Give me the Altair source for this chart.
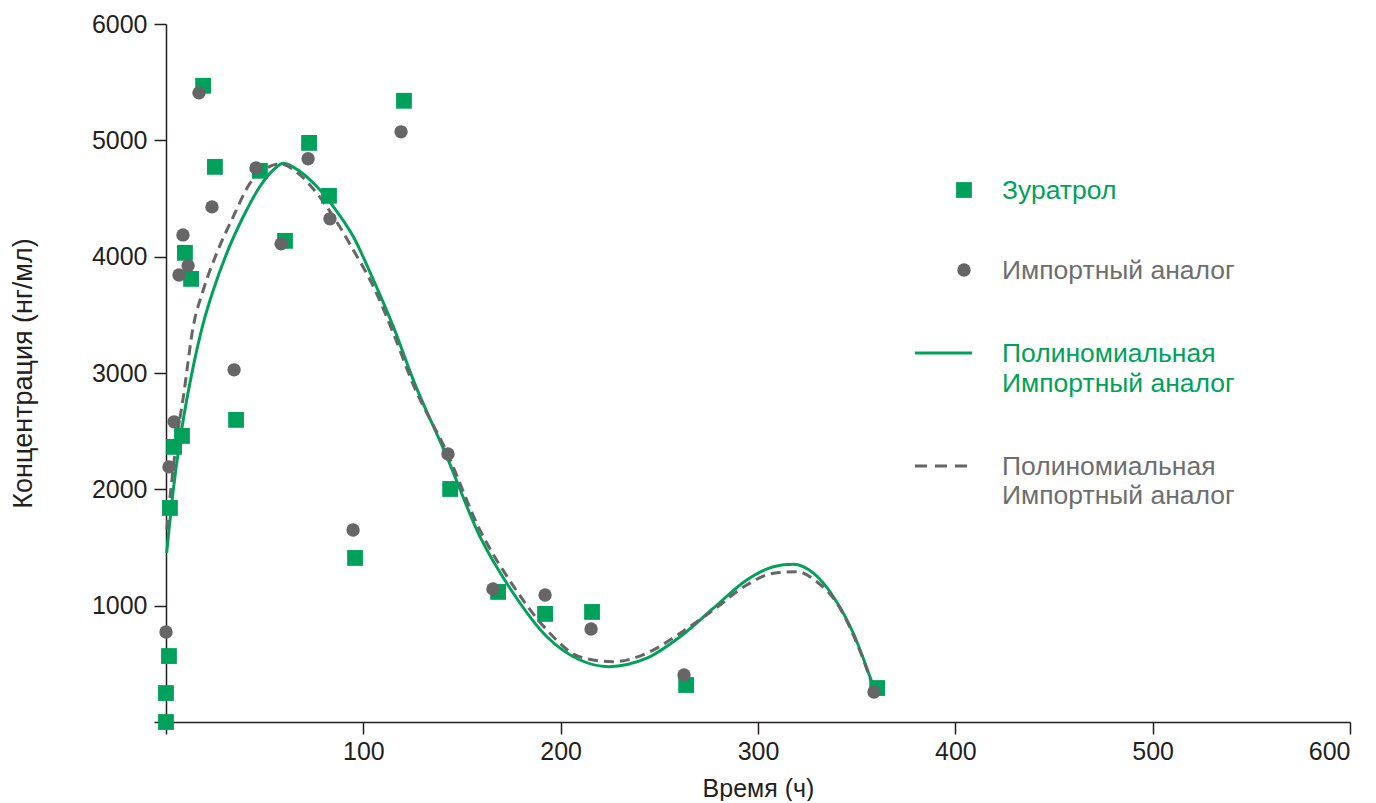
import altair as alt
import pandas as pd

GREEN = "#00A15A"
GRAY = "#666666"
LEG_GRAY = "#6E6E6E"
AXIS = "#231F20"
FONT = "Liberation Sans"

# --- Зуратрол (squares) ---
zur_t = [0, 0, 1.5, 2, 4.1, 8.1, 9.6, 12.7, 18.8, 24.8, 35.5, 47.6, 60.3, 72.5,
         82.6, 95.8, 120.6, 144, 168.3, 192.1, 215.9, 263.6, 360.4]
zur_c = [0, 249, 567, 1840, 2365, 2459, 4033, 3809, 5469, 4772, 2597, 4738, 4136, 4978,
         4523, 1410, 5340, 2003, 1118, 929, 946, 318, 292]

# --- Импортный аналог (circles) ---
imp_t = [0, 1.5, 4.1, 6.6, 8.6, 11.2, 16.7, 23.3, 34.5, 45.6, 58.3, 72, 83.1,
         94.8, 119.1, 142.9, 165.7, 192.1, 215.4, 262.5, 358.8]
imp_c = [774, 2193, 2580, 3843, 4187, 3921, 5408, 4428, 3027, 4763, 4110, 4841, 4325,
         1651, 5073, 2304, 1144, 1092, 800, 404, 258]

# --- Polynomial trend (green, solid) ---
fitz_t = [0.35, 3.7, 7.1, 10.5, 13.8, 18.9, 24, 30.8, 39.2, 47.6, 54.4, 59.5, 67.9,
          76.4, 84.8, 94.9, 105.1, 115.2, 125.3, 142.3, 159.1, 176, 193, 209.8,
          224.2, 243.6, 260.5, 277.4, 294.3, 307.8, 317.9, 328.1, 338.2, 348.3, 358.5]
fitz_c = [1453, 1995, 2425, 2769, 3055, 3428, 3714, 4030, 4345, 4603, 4746, 4804, 4732,
          4603, 4431, 4173, 3801, 3399, 2941, 2281, 1593, 1107, 733, 533,
          476, 548, 733, 978, 1221, 1335, 1356, 1279, 1077, 763, 304]

# --- Polynomial trend (gray, dashed) ---
fiti_t = [0.35, 5.4, 8.8, 13.8, 18.9, 25.7, 34.1, 42.6, 51, 57.8, 67.9, 76.4, 84.8,
          94.9, 105.1, 115.2, 125.3, 142.3, 159.1, 176, 193, 209.8, 226.7, 243.6,
          260.5, 277.4, 294.3, 307.8, 319.7, 329.8, 340, 350.1, 357.7]
fiti_c = [1651, 2425, 2797, 3399, 3714, 4030, 4345, 4632, 4761, 4798, 4703, 4546, 4345,
          4058, 3743, 3342, 2900, 2320, 1650, 1170, 791, 560, 518, 591,
          763, 963, 1178, 1279, 1292, 1206, 1021, 677, 333]

x_ticks = [0, 100, 200, 300, 400, 500, 600]
y_ticks = [0, 1000, 2000, 3000, 4000, 5000, 6000]

W, H = 1184, 698

xs = alt.Scale(domain=[0, 600], nice=False)
ys = alt.Scale(domain=[0, 6000], nice=False)

x_axis = alt.Axis(values=x_ticks, format="d", title="Время (ч)", grid=False,
                  labelExpr="datum.value == 0 ? '' : datum.label",
                  tickSize=12, labelPadding=5, titlePadding=12)
y_axis = alt.Axis(values=y_ticks, format="d", title="Концентрация (нг/мл)", grid=False,
                  labelExpr="datum.value == 0 ? '' : datum.label",
                  tickSize=12, labelPadding=7, titlePadding=54)

df_z = pd.DataFrame({"t": zur_t, "c": zur_c})
df_i = pd.DataFrame({"t": imp_t, "c": imp_c})
df_fz = pd.DataFrame({"t": fitz_t, "c": fitz_c})
df_fi = pd.DataFrame({"t": fiti_t, "c": fiti_c})

enc = dict(x=alt.X("t:Q", scale=xs, axis=x_axis), y=alt.Y("c:Q", scale=ys, axis=y_axis))

line_z = alt.Chart(df_fz).mark_line(color=GREEN, strokeWidth=3, interpolate="monotone").encode(**enc)
line_i = alt.Chart(df_fi).mark_line(color=GRAY, strokeWidth=3, strokeDash=[10, 6],
                                    interpolate="monotone").encode(**enc)
pts_z = alt.Chart(df_z).mark_point(shape="square", filled=True, size=250, color=GREEN,
                                   opacity=1).encode(**enc)
pts_i = alt.Chart(df_i).mark_point(shape="circle", filled=True, size=180, color=GRAY,
                                   opacity=1).encode(**enc)

# --- legend (drawn manually) ---
LFS = 26.5


def ltext(txt, y, color):
    return alt.Chart().mark_text(align="left", baseline="alphabetic", font=FONT,
                                 fontSize=LFS, color=color).encode(
        x=alt.value(836), y=alt.value(y), text=alt.value(txt))


leg = [
    alt.Chart().mark_point(shape="square", filled=True, size=250, color=GREEN, opacity=1)
    .encode(x=alt.value(798), y=alt.value(166)),
    alt.Chart().mark_point(shape="circle", filled=True, size=180, color=GRAY, opacity=1)
    .encode(x=alt.value(798), y=alt.value(246)),
    alt.Chart().mark_rule(color=GREEN, strokeWidth=3)
    .encode(x=alt.value(749), x2=alt.value(806), y=alt.value(329)),
    alt.Chart().mark_rule(color=GRAY, strokeWidth=3, strokeDash=[12, 8])
    .encode(x=alt.value(749), x2=alt.value(806), y=alt.value(442)),
    ltext("Зуратрол", 175, GREEN),
    ltext("Импортный аналог", 255, LEG_GRAY),
    ltext("Полиномиальная", 338, GREEN),
    ltext("Импортный аналог", 368, GREEN),
    ltext("Полиномиальная", 451, LEG_GRAY),
    ltext("Импортный аналог", 480, LEG_GRAY),
]

chart = alt.layer(line_z, line_i, pts_z, pts_i, *leg).properties(
    width=W, height=H,
    autosize=alt.AutoSizeParams(type="none"),
    padding={"left": 158, "top": 16, "right": 10, "bottom": 79},
).configure_view(stroke=None).configure_axis(
    domainColor=AXIS, domainWidth=1.5, tickColor=AXIS, tickWidth=1.5,
    labelFont=FONT, labelFontSize=25, labelColor=AXIS,
    titleFont=FONT, titleFontSize=25, titleFontWeight="normal", titleColor=AXIS,
).configure_axisY(titleFontSize=27)

chart.save("out.html", embed_options={"renderer": "svg", "actions": False})
